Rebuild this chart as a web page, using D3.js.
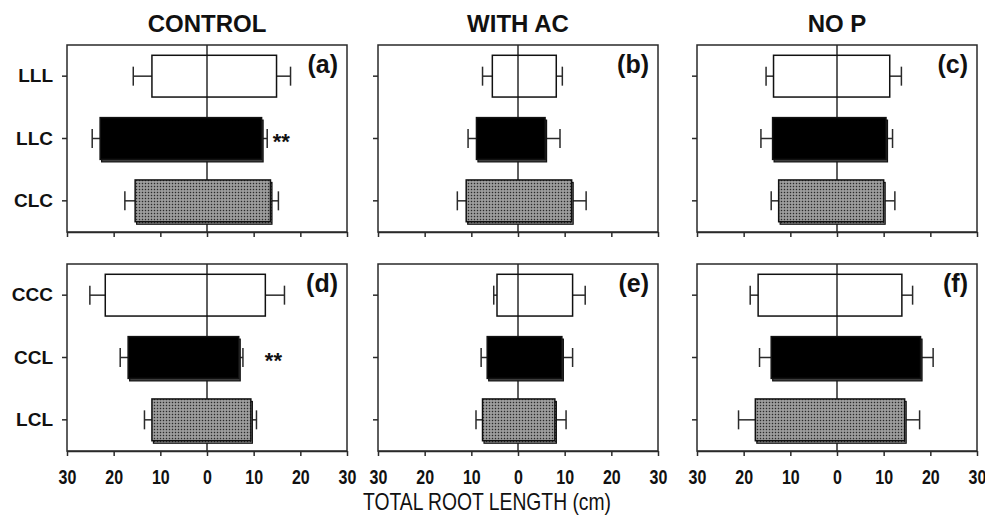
<!DOCTYPE html>
<html>
<head>
<meta charset="utf-8">
<script src="https://cdn.jsdelivr.net/npm/d3@7/dist/d3.min.js"></script>
<style>
  html, body { margin: 0; padding: 0; background: #fff; }
  svg { display: block; }
</style>
</head>
<body>
<svg id="chart" width="985" height="517"></svg>
<script>
// ---------- data ----------
const columnTitles = ["CONTROL", "WITH AC", "NO P"];
const rowCategories = [["LLL", "LLC", "CLC"], ["CCC", "CCL", "LCL"]];
const panelLetters = ["(a)", "(b)", "(c)", "(d)", "(e)", "(f)"];
const xTicks = [-30, -20, -10, 0, 10, 20, 30];

// panels in order a, b, c, d, e, f; three bars each (top to bottom)
const leftMean  = [[11.8, 22.9, 15.4], [5.5, 8.9, 11.1], [13.6, 13.8, 12.5],
                   [21.8, 16.9, 11.8], [4.5, 6.6, 7.6], [16.9, 14.1, 17.5]];
const leftSE    = [[4.0, 1.7, 2.2], [2.1, 1.8, 1.9], [1.6, 2.5, 1.6],
                   [3.3, 1.7, 1.6], [0.7, 1.3, 1.4], [1.7, 2.5, 3.6]];
const rightMean = [[14.9, 11.7, 13.6], [8.2, 5.8, 11.5], [11.3, 10.5, 10.0],
                   [12.5, 6.8, 9.4], [11.7, 9.4, 7.9], [13.9, 17.9, 14.5]];
const rightSE   = [[3.0, 1.2, 1.7], [1.3, 3.2, 3.1], [2.5, 1.4, 2.4],
                   [4.1, 0.9, 1.2], [2.7, 2.3, 2.4], [2.3, 2.7, 3.2]];
// significance marks: [panel index, bar index, x value]
const starMarks = [[0, 1, 14.1], [3, 1, 12.4]];

// ---------- layout ----------
const colLeft = [67, 378, 697];
const rowTop = [45, 264];
const pw = 280, ph = 187;
const frameColor = "#2a2a2a";
const sans = "'Liberation Sans', Arial, sans-serif";

const svg = d3.select("#chart");
const defs = svg.append("defs");

// stipple pattern for the third bar
const pat = defs.append("pattern")
  .attr("id", "stipple")
  .attr("patternUnits", "userSpaceOnUse")
  .attr("width", 3).attr("height", 3);
pat.append("rect").attr("width", 3).attr("height", 3).attr("fill", "#888");
pat.append("rect").attr("x", 0).attr("y", 0).attr("width", 1).attr("height", 1).attr("fill", "#2a2a2a");
pat.append("rect").attr("x", 1.5).attr("y", 1.5).attr("width", 1).attr("height", 1).attr("fill", "#d8d8d8");

const x = d3.scaleLinear().domain([-30, 30]).range([0, pw]);

for (let r = 0; r < 2; r++) {
  for (let c = 0; c < 3; c++) {
    const p = r * 3 + c;
    const g = svg.append("g").attr("transform", `translate(${colLeft[c]},${rowTop[r]})`);
    const y = d3.scaleBand().domain(rowCategories[r]).range([0, ph]).paddingInner(0.33).paddingOuter(0.165);

    // zero line (behind bars)
    g.append("line")
      .attr("x1", x(0)).attr("x2", x(0))
      .attr("y1", 0).attr("y2", ph)
      .attr("stroke", frameColor).attr("stroke-width", 1.5);

    const bars = rowCategories[r].map((cat, i) => ({
      cat, i,
      l: -leftMean[p][i], le: -(leftMean[p][i] + leftSE[p][i]),
      rt: rightMean[p][i], re: rightMean[p][i] + rightSE[p][i]
    }));

    // error bars (outward only)
    const capH = 19;
    bars.forEach(d => {
      const cy = y(d.cat) + y.bandwidth() / 2;
      [[d.l, d.le], [d.rt, d.re]].forEach(([from, to]) => {
        g.append("line")
          .attr("x1", x(from)).attr("x2", x(to))
          .attr("y1", cy).attr("y2", cy)
          .attr("stroke", frameColor).attr("stroke-width", 1.5);
        g.append("line")
          .attr("x1", x(to)).attr("x2", x(to))
          .attr("y1", cy - capH / 2).attr("y2", cy + capH / 2)
          .attr("stroke", frameColor).attr("stroke-width", 1.5);
      });
    });

    // shadow for the filled bars
    g.selectAll("rect.shadow")
      .data(bars.filter(d => d.i > 0))
      .join("rect")
      .attr("class", "shadow")
      .attr("x", d => x(d.l) + 1.5)
      .attr("y", d => y(d.cat) + 2.5)
      .attr("width", d => x(d.rt) - x(d.l))
      .attr("height", y.bandwidth())
      .attr("fill", d => d.i === 1 ? "#444" : "url(#stipple)")
      .attr("stroke", "#111").attr("stroke-width", 1.2);

    g.selectAll("rect.bar")
      .data(bars)
      .join("rect")
      .attr("class", "bar")
      .attr("x", d => x(d.l))
      .attr("y", d => y(d.cat))
      .attr("width", d => x(d.rt) - x(d.l))
      .attr("height", y.bandwidth())
      .attr("fill", d => d.i === 0 ? "none" : d.i === 1 ? "#000" : "url(#stipple)")
      .attr("stroke", "#111").attr("stroke-width", 1.5);

    // frame
    g.append("rect")
      .attr("width", pw).attr("height", ph)
      .attr("fill", "none").attr("stroke", frameColor).attr("stroke-width", 1.5);

    // bottom axis
    const xAxis = d3.axisBottom(x).tickValues(xTicks).tickSize(5).tickSizeOuter(0)
      .tickFormat(r === 1 ? (v => Math.abs(v)) : "");
    const ax = g.append("g").attr("transform", `translate(0,${ph})`).call(xAxis);
    ax.select(".domain").attr("stroke", frameColor).attr("stroke-width", 1.5);
    ax.selectAll(".tick line").attr("stroke", frameColor).attr("stroke-width", 1.5);
    ax.selectAll(".tick text")
      .attr("y", 19)
      .attr("transform", "scale(0.8,1)")
      .attr("font-family", sans)
      .attr("font-weight", "bold").attr("font-size", 20).attr("fill", "#111");

    // left axis
    const yAxis = d3.axisLeft(y).tickSize(5).tickSizeOuter(0)
      .tickFormat(c === 0 ? (v => v) : "");
    const ay = g.append("g").call(yAxis);
    ay.select(".domain").remove();
    ay.selectAll(".tick line").attr("stroke", frameColor).attr("stroke-width", 1.5);
    ay.selectAll(".tick text")
      .attr("x", -14)
      .attr("font-family", sans)
      .attr("font-weight", "bold").attr("font-size", 19).attr("fill", "#111");

    // panel letter
    g.append("text")
      .attr("x", pw - 9).attr("y", 28)
      .attr("text-anchor", "end")
      .attr("font-family", sans)
      .attr("font-weight", "bold").attr("font-size", 25).attr("fill", "#111")
      .text(panelLetters[p]);

    // significance stars
    starMarks.filter(s => s[0] === p).forEach(s => {
      g.append("text")
        .attr("x", x(s[2])).attr("y", y(rowCategories[r][s[1]]) + y.bandwidth() / 2 + 10)
        .attr("font-family", sans)
        .attr("font-weight", "bold").attr("font-size", 22).attr("fill", "#111")
        .text("**");
    });

    if (r === 0) {
      svg.append("text")
        .attr("x", colLeft[c] + pw / 2).attr("y", 32)
        .attr("text-anchor", "middle")
        .attr("font-family", sans)
        .attr("font-weight", "bold").attr("font-size", 24).attr("fill", "#111")
        .text(columnTitles[c]);
    }
  }
}

svg.append("text")
  .attr("transform", "translate(487,510) scale(0.84,1)")
  .attr("text-anchor", "middle")
  .attr("font-family", sans)
  .attr("font-size", 23).attr("fill", "#111")
  .text("TOTAL ROOT LENGTH (cm)");
</script>
</body>
</html>
